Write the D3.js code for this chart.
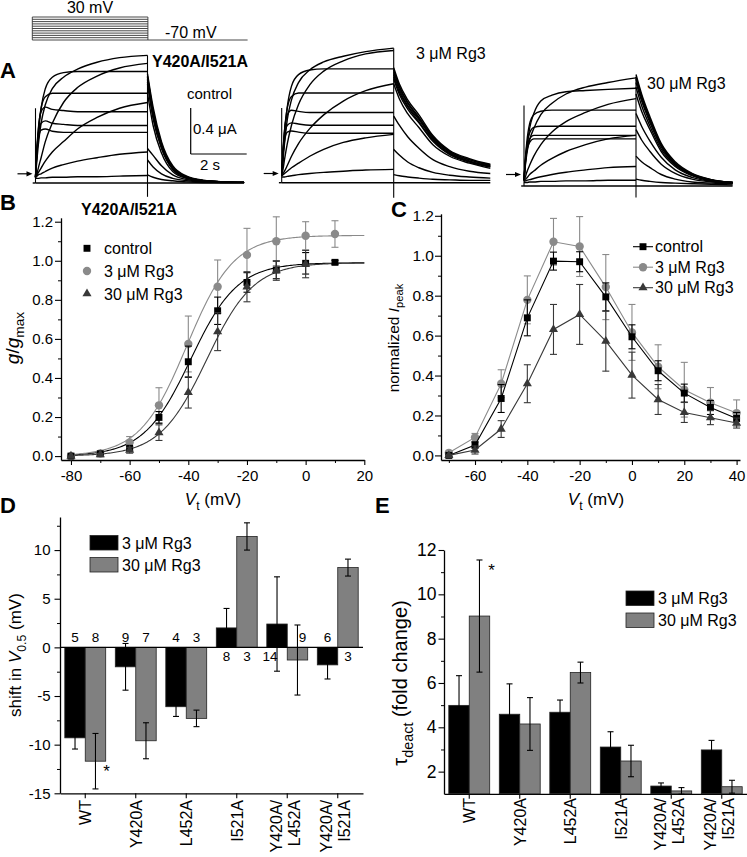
<!DOCTYPE html>
<html><head><meta charset="utf-8">
<script src="https://cdn.jsdelivr.net/npm/d3@7"></script>
<style>body{margin:0;background:#fff}svg{display:block}text{font-family:"Liberation Sans",Arial,Helvetica,sans-serif;fill:#000}</style>
</head><body><svg id="fig" width="747" height="857"></svg>
<script>
// ================= DATA =================
// Panel A : voltage protocol and current traces (µA)
const protocolSteps = [-70,-60,-50,-40,-30,-20,-10,0,10,20,30];
const holdingV = -70;
const actTimes = [0,0.05,0.1,0.2,0.35,0.6,1,1.5,2.2,3,4];      // s, during 4-s pulse
const tailTimes = [0,0.2,0.5,0.9,1.4,2,2.7,3.45];                // s, after pulse end

const controlAct = [
 [0.05,0.20,0.33,0.52,0.68,0.82,0.92,0.99,1.05,1.09,1.11],
 [0.05,0.08,0.13,0.22,0.36,0.52,0.70,0.83,0.93,1.00,1.04],
 [0.05,0.25,0.42,0.65,0.82,0.92,0.96,0.97,0.97,0.97,0.97],
 [0.05,0.28,0.45,0.65,0.75,0.78,0.78,0.78,0.78,0.78,0.78],
 [0.05,0.07,0.09,0.13,0.19,0.27,0.36,0.47,0.57,0.65,0.70],
 [0.05,0.30,0.47,0.62,0.66,0.64,0.63,0.62,0.62,0.62,0.62],
 [0.05,0.28,0.42,0.52,0.54,0.52,0.51,0.50,0.50,0.50,0.50],
 [0.05,0.26,0.38,0.46,0.47,0.45,0.44,0.44,0.44,0.44,0.44],
 [0.05,0.06,0.07,0.08,0.10,0.13,0.16,0.19,0.22,0.25,0.27],
 [0.04,0.04,0.04,0.045,0.045,0.05,0.05,0.055,0.055,0.06,0.065],
 [0,0,0,0,0,0,0,0,0,0,0]
];
const controlTail = [
 [0.95,0.66,0.36,0.15,0.06,0.025,0.01,0.005],
 [0.78,0.50,0.26,0.10,0.04,0.02,0.01,0.005],
 [0.93,0.63,0.34,0.14,0.055,0.02,0.01,0.005],
 [0.92,0.62,0.33,0.135,0.05,0.02,0.01,0.005],
 [0.30,0.24,0.15,0.07,0.03,0.015,0.01,0.005],
 [0.90,0.60,0.32,0.13,0.05,0.02,0.01,0.005],
 [0.88,0.58,0.31,0.12,0.045,0.02,0.01,0.005],
 [0.86,0.56,0.30,0.12,0.045,0.02,0.01,0.005],
 [0.20,0.14,0.08,0.04,0.02,0.01,0.005,0.005],
 [0.07,0.05,0.03,0.02,0.01,0.005,0.005,0.005],
 [0,0,0,0,0,0,0,0]
];
const rg3Act = [
 [0.06,0.20,0.34,0.55,0.72,0.87,0.98,1.05,1.10,1.14,1.17],
 [0.06,0.12,0.20,0.34,0.50,0.68,0.85,0.97,1.06,1.12,1.15],
 [0.06,0.26,0.43,0.66,0.84,0.94,0.98,0.99,0.99,0.99,0.99],
 [0.06,0.08,0.10,0.15,0.23,0.34,0.47,0.59,0.71,0.80,0.86],
 [0.06,0.28,0.45,0.65,0.75,0.78,0.78,0.78,0.78,0.78,0.78],
 [0.06,0.29,0.45,0.59,0.63,0.62,0.61,0.61,0.61,0.61,0.61],
 [0.06,0.27,0.40,0.50,0.52,0.51,0.50,0.50,0.50,0.50,0.50],
 [0.06,0.25,0.36,0.44,0.45,0.44,0.43,0.43,0.43,0.43,0.43],
 [0.06,0.07,0.08,0.10,0.13,0.17,0.23,0.29,0.35,0.39,0.42],
 [0.05,0.05,0.05,0.055,0.06,0.07,0.08,0.09,0.10,0.11,0.116],
 [0,0,0,0,0,0,0,0,0,0,0]
];
const rg3Tail = [
 [1.00,0.86,0.72,0.59,0.41,0.28,0.21,0.16],
 [0.98,0.84,0.70,0.57,0.40,0.27,0.20,0.155],
 [0.96,0.83,0.69,0.56,0.39,0.27,0.20,0.15],
 [0.58,0.50,0.40,0.30,0.20,0.14,0.10,0.08],
 [0.94,0.81,0.67,0.55,0.38,0.26,0.19,0.145],
 [0.92,0.79,0.66,0.53,0.37,0.25,0.185,0.14],
 [0.90,0.77,0.64,0.52,0.36,0.245,0.18,0.135],
 [0.86,0.73,0.60,0.48,0.33,0.23,0.17,0.125],
 [0.29,0.24,0.18,0.13,0.09,0.065,0.05,0.04],
 [0.07,0.06,0.05,0.04,0.03,0.025,0.02,0.02],
 [0,0,0,0,0,0,0,0]
];
const rg30Act = [
 [0.05,0.18,0.28,0.40,0.50,0.62,0.72,0.80,0.86,0.90,0.94],
 [0.05,0.20,0.32,0.50,0.63,0.74,0.79,0.82,0.83,0.84,0.85],
 [0.05,0.08,0.12,0.18,0.26,0.36,0.47,0.56,0.64,0.71,0.76],
 [0.05,0.24,0.38,0.54,0.62,0.65,0.66,0.66,0.66,0.66,0.66],
 [0.05,0.23,0.35,0.46,0.51,0.52,0.52,0.52,0.52,0.52,0.52],
 [0.05,0.22,0.32,0.41,0.44,0.44,0.44,0.44,0.44,0.44,0.44],
 [0.05,0.21,0.30,0.38,0.41,0.41,0.41,0.41,0.41,0.41,0.41],
 [0.05,0.06,0.07,0.10,0.13,0.18,0.24,0.30,0.36,0.41,0.44],
 [0.04,0.045,0.05,0.055,0.065,0.08,0.10,0.12,0.14,0.16,0.17],
 [0.03,0.03,0.03,0.035,0.035,0.04,0.04,0.045,0.045,0.05,0.05],
 [0,0,0,0,0,0,0,0,0,0,0]
];
const rg30Tail = [
 [0.97,0.80,0.60,0.37,0.21,0.11,0.055,0.03],
 [0.95,0.78,0.58,0.36,0.20,0.105,0.053,0.03],
 [0.93,0.76,0.57,0.35,0.195,0.10,0.05,0.03],
 [0.90,0.74,0.55,0.34,0.19,0.10,0.05,0.03],
 [0.86,0.70,0.52,0.32,0.18,0.095,0.05,0.03],
 [0.80,0.65,0.49,0.30,0.17,0.09,0.045,0.03],
 [0.63,0.52,0.39,0.25,0.14,0.075,0.04,0.025],
 [0.49,0.40,0.30,0.19,0.11,0.06,0.035,0.025],
 [0.26,0.21,0.16,0.10,0.06,0.035,0.025,0.02],
 [0.06,0.05,0.04,0.03,0.025,0.02,0.015,0.01],
 [0,0,0,0,0,0,0,0]
];
const startArtifact = [0.65, 0.65, 0.70];          // µA
const endArtifact = [[1.11,-0.12],[1.17,-0.13],[0.95,-0.10]];
const zeroArrow = [0.08, 0.08, 0.10];
const scaleBarI = 0.4, scaleBarT = 2;

// Panel B : g/gmax
const bVolt = [-80,-70,-60,-50,-40,-30,-20,-10,0,10];
const bControl    = [0.0,0.012,0.04,0.198,0.483,0.744,0.889,0.953,0.987,0.992];
const bControlErr = [0,0.005,0.01,0.03,0.08,0.07,0.05,0.045,0.055,0.01];
const bRg3        = [0.0,0.014,0.07,0.26,0.574,0.867,1.03,1.10,1.128,1.137];
const bRg3Err     = [0,0.005,0.03,0.09,0.143,0.137,0.136,0.125,0.072,0.068];
const bRg30Volt   = [-80,-70,-60,-50,-40,-30,-20,-10,0];
const bRg30       = [0.0,0.008,0.03,0.12,0.326,0.637,0.867,0.95,0.983];
const bRg30Err    = [0,0.005,0.015,0.04,0.08,0.097,0.077,0.05,0.07];
const fitVhalf = [-39.2,-40.5,-33.7];
const fitSlope = [8,8,8];
const fitGmax  = [0.99,1.13,0.99];
const bXTicks = [-80,-60,-40,-20,0,20];
const bYTicks = [0,0.2,0.4,0.6,0.8,1.0,1.2];

// Panel C : normalized Ipeak
const cVolt = [-70,-60,-50,-40,-30,-20,-10,0,10,20,30,40];
const cControl    = [0.0,0.052,0.285,0.689,0.973,0.97,0.794,0.594,0.424,0.312,0.24,0.185];
const cControlErr = [0.005,0.015,0.07,0.09,0.045,0.05,0.07,0.06,0.05,0.045,0.035,0.03];
const cRg3        = [0.013,0.09,0.359,0.779,1.07,1.046,0.843,0.616,0.444,0.329,0.264,0.212];
const cRg3Err     = [0.005,0.02,0.07,0.12,0.117,0.15,0.163,0.14,0.11,0.137,0.076,0.066];
const cRg30       = [0.0,0.027,0.132,0.359,0.631,0.706,0.572,0.402,0.28,0.215,0.189,0.162];
const cRg30Err    = [0.005,0.02,0.042,0.095,0.125,0.15,0.15,0.115,0.075,0.05,0.035,0.025];
const cXTicks = [-60,-40,-20,0,20,40];

// Panels D & E
const mutants = ["WT","Y420A","L452A","I521A","Y420A/L452A","Y420A/I521A"];
const shift3     = [-9.3,-2.0,-6.1,2.0,2.4,-1.8];
const shift3Err  = [1.15,2.4,1.0,2.0,4.85,1.45];
const shift30    = [-11.7,-9.6,-7.3,11.4,-1.3,8.2];
const shift30Err = [2.85,1.85,0.85,1.4,3.6,0.87];
const n3  = [5,9,4,8,14,6];
const n30 = [8,7,3,3,9,3];
const dYTicks = [-15,-10,-5,0,5,10];
const tau3     = [4.99,4.59,4.68,3.11,1.35,2.98];
const tau3Err  = [1.34,1.37,0.55,0.69,0.14,0.43];
const tau30    = [9.02,4.15,6.47,2.48,1.13,1.32];
const tau30Err = [2.53,1.19,0.47,0.71,0.15,0.29];
const eYTicks = [2,4,6,8,10,12];
const legendLabels = ["3 μM Rg3","30 μM Rg3"];
const bcLegend = ["control","3 μM Rg3","30 μM Rg3"];

// ================= DRAWING =================
const svg = d3.select("#fig");
const GRAY = "#8a8a8a", DARK = "#383838", BARGRAY = "#808080";

function rich(g, x, y, parts, size, rotate, anchor) {
  const t = g.append("text").attr("x", x).attr("y", y).attr("font-size", size)
    .attr("text-anchor", anchor || "middle");
  if (rotate) t.attr("transform", `rotate(-90,${x},${y})`);
  parts.forEach(p => {
    const s = t.append("tspan").text(p.t);
    if (p.i) s.attr("font-style", "italic");
    if (p.sub) s.attr("font-size", size * 0.72).attr("dy", size * 0.28);
    if (p.up) s.attr("dy", -size * 0.28);
  });
  return t;
}
function plain(g, x, y, s, size, anchor, weight) {
  return g.append("text").attr("x", x).attr("y", y).attr("font-size", size)
    .attr("text-anchor", anchor || "start").attr("font-weight", weight || "normal").text(s);
}
function styleAxis(ax, fs) {
  ax.attr("font-family", '"Liberation Sans",Arial,sans-serif').attr("font-size", fs);
  ax.selectAll("text").attr("fill", "#000");
  ax.selectAll("line").attr("stroke", "#000").attr("stroke-width", 1.1);
  ax.select(".domain").attr("stroke", "#000").attr("stroke-width", 1.3);
}
function minorAxis(g, axisFn, scale, vals, size, transform) {
  const m = g.append("g").attr("transform", transform)
    .call(axisFn(scale).tickValues(vals).tickSize(size).tickFormat(""));
  m.select(".domain").remove();
  m.selectAll("line").attr("stroke", "#000").attr("stroke-width", 1);
}
const fmtNum = d => String(d);
const fmt1 = d => d.toFixed(1);

// ---------- Panel A ----------
const gA = svg.append("g");
plain(gA, 0, 78, "A", 22, "start", "bold");
const protoT = d3.scaleLinear().domain([0, 7.45]).range([32.3, 32.3 + 7.45 * 28.9]);
const protoV = d3.scaleLinear().domain([-70, 30]).range([40, 17]);
const pg = gA.append("g").attr("stroke", "#333").attr("stroke-width", 0.9).attr("fill", "none");
protocolSteps.forEach(v => pg.append("line").attr("x1", protoT(0)).attr("x2", protoT(4))
  .attr("y1", protoV(v)).attr("y2", protoV(v)));
pg.append("line").attr("x1", protoT(0)).attr("x2", protoT(0)).attr("y1", protoV(30)).attr("y2", protoV(holdingV));
pg.append("line").attr("x1", protoT(4)).attr("x2", protoT(4)).attr("y1", protoV(30)).attr("y2", protoV(holdingV));
pg.append("line").attr("x1", protoT(4)).attr("x2", protoT(7.45)).attr("y1", protoV(holdingV)).attr("y2", protoV(holdingV));
plain(gA, 90, 13, "30 mV", 16, "middle");
plain(gA, 165, 37.5, "-70 mV", 16, "start");

const panelsA = [
  {act: controlAct, tail: controlTail, x0: 35.5, base: 183},
  {act: rg3Act, tail: rg3Tail, x0: 281.7, base: 182.7},
  {act: rg30Act, tail: rg30Tail, x0: 524, base: 186}
];
panelsA.forEach((p, k) => {
  const tx = d3.scaleLinear().domain([0, 7.45]).range([p.x0, p.x0 + 7.45 * 28]);
  const iy = d3.scaleLinear().domain([0, 1]).range([p.base, p.base - 115]);
  const line = d3.line().x(d => tx(d[0])).y(d => iy(d[1])).curve(d3.curveMonotoneX);
  const g = gA.append("g").attr("fill", "none").attr("stroke", "#000").attr("stroke-width", 1.4);
  p.act.forEach(tr => g.append("path").attr("d", line(actTimes.map((t, i) => [t, tr[i]]))));
  p.tail.forEach(tr => g.append("path").attr("d", line(tailTimes.map((t, i) => [4 + t, tr[i]]))));
  g.append("line").attr("x1", tx(-0.1)).attr("x2", tx(0)).attr("y1", iy(0)).attr("y2", iy(0));
  g.append("line").attr("x1", tx(0)).attr("x2", tx(0)).attr("y1", iy(0)).attr("y2", iy(startArtifact[k])).attr("stroke-width", 1.1);
  g.append("line").attr("x1", tx(4)).attr("x2", tx(4)).attr("y1", iy(endArtifact[k][0])).attr("y2", iy(endArtifact[k][1])).attr("stroke-width", 1.1);
  const ay = iy(zeroArrow[k]);
  gA.append("line").attr("x1", tx(0) - 18).attr("x2", tx(0) - 7).attr("y1", ay).attr("y2", ay)
    .attr("stroke", "#000").attr("stroke-width", 1.2);
  gA.append("path").attr("d", `M${tx(0) - 3},${ay} L${tx(0) - 9},${ay - 2.6} L${tx(0) - 9},${ay + 2.6} Z`).attr("fill", "#000");
  if (k === 0) {
    const sx = 190.7, sy = 154;
    const sb = gA.append("g").attr("stroke", "#000").attr("stroke-width", 1.2).attr("fill", "none");
    sb.append("line").attr("x1", sx).attr("x2", sx).attr("y1", sy).attr("y2", sy - (iy(0) - iy(scaleBarI)));
    sb.append("line").attr("x1", sx).attr("x2", sx + (tx(scaleBarT) - tx(0))).attr("y1", sy).attr("y2", sy);
    plain(gA, 193, 133.5, "0.4 μA", 15, "start");
    plain(gA, 200, 170, "2 s", 15, "start");
  }
});
plain(gA, 152, 67, "Y420A/I521A", 16, "start", "bold");
plain(gA, 187, 99, "control", 15, "start");
plain(gA, 416, 59, "3 μM Rg3", 16, "start");
plain(gA, 647, 89, "30 μM Rg3", 16, "start");

const sym = {
  square: d3.symbol(d3.symbolSquare, 48),
  circle: d3.symbol(d3.symbolCircle, 55),
  triangle: d3.symbol(d3.symbolTriangle, 36)
};
function drawSeries(g, xs, ys, errs, x, y, shape, color, opts) {
  const eg = g.append("g").attr("stroke", color).attr("stroke-width", 1.1);
  xs.forEach((v, i) => {
    if (!errs[i]) return;
    const cx = x(v), y1 = y(ys[i] - errs[i]), y2 = y(ys[i] + errs[i]);
    eg.append("line").attr("x1", cx).attr("x2", cx).attr("y1", y1).attr("y2", y2);
    eg.append("line").attr("x1", cx - 3.5).attr("x2", cx + 3.5).attr("y1", y1).attr("y2", y1);
    eg.append("line").attr("x1", cx - 3.5).attr("x2", cx + 3.5).attr("y1", y2).attr("y2", y2);
  });
  if (opts && opts.connect) {
    g.append("path").attr("fill", "none").attr("stroke", color).attr("stroke-width", 1.1)
      .attr("d", d3.line().x((d, i) => x(xs[i])).y(d => y(d))(ys));
  }
  xs.forEach((v, i) => g.append("path").attr("d", sym[shape]())
    .attr("transform", `translate(${x(v)},${y(ys[i])})`).attr("fill", color));
}

// ---------- Panel B ----------
const gB = svg.append("g");
plain(gB, 0, 210, "B", 22, "start", "bold");
const bx = d3.scaleLinear().domain([-83.4, 20]).range([61, 364.3]);
const by = d3.scaleLinear().domain([-0.02, 1.22]).range([460, 217.8]);
let ax = gB.append("g").attr("transform", "translate(0,460)")
  .call(d3.axisBottom(bx).tickValues(bXTicks).tickSize(5).tickSizeOuter(0).tickPadding(5).tickFormat(fmtNum));
styleAxis(ax, 15);
minorAxis(gB, d3.axisBottom, bx, [-70,-50,-30,-10,10], 3, "translate(0,460)");
ax = gB.append("g").attr("transform", "translate(61,0)")
  .call(d3.axisLeft(by).tickValues(bYTicks).tickSize(6).tickSizeOuter(0).tickPadding(2).tickFormat(fmt1));
styleAxis(ax, 15);
minorAxis(gB, d3.axisLeft, by, [0.1,0.3,0.5,0.7,0.9,1.1], 3, "translate(61,0)");
const fitV = d3.range(-80, 20.01, 0.5);
const fitColors = ["#000", GRAY, DARK];
fitVhalf.forEach((vh, k) => {
  gB.append("path").attr("fill", "none").attr("stroke", fitColors[k]).attr("stroke-width", 1.1)
    .attr("d", d3.line().x(v => bx(v)).y(v => by(fitGmax[k] / (1 + Math.exp((vh - v) / fitSlope[k]))))(fitV));
});
drawSeries(gB, bVolt, bRg3, bRg3Err, bx, by, "circle", GRAY);
drawSeries(gB, bVolt, bControl, bControlErr, bx, by, "square", "#000");
drawSeries(gB, bRg30Volt, bRg30, bRg30Err, bx, by, "triangle", DARK);
plain(gB, 81, 215, "Y420A/I521A", 16, "start", "bold");
[["square", "#000"], ["circle", GRAY], ["triangle", DARK]].forEach((s, i) => {
  const yy = 248.3 + i * 22.7;
  gB.append("path").attr("d", sym[s[0]]()).attr("transform", `translate(87,${yy})`).attr("fill", s[1]);
  plain(gB, 104, yy + 6, bcLegend[i], 16, "start");
});
rich(gB, 19, 338, [{t: "g", i: 1}, {t: "/"}, {t: "g", i: 1}, {t: "max", sub: 1}], 19, true);
rich(gB, 213, 505, [{t: "V", i: 1}, {t: "t", sub: 1}, {t: " (mV)", up: 1}], 17, false);

// ---------- Panel C ----------
const gC = svg.append("g");
plain(gC, 391, 216.7, "C", 22, "start", "bold");
const cx = d3.scaleLinear().domain([-73, 41.3]).range([441, 740]);
const cy = d3.scaleLinear().domain([-0.023, 1.21]).range([460, 213.8]);
ax = gC.append("g").attr("transform", "translate(0,460)")
  .call(d3.axisBottom(cx).tickValues(cXTicks).tickSize(5).tickSizeOuter(0).tickPadding(5).tickFormat(fmtNum));
styleAxis(ax, 15);
minorAxis(gC, d3.axisBottom, cx, [-70,-50,-30,-10,10,30], 3, "translate(0,460)");
ax = gC.append("g").attr("transform", "translate(441,0)")
  .call(d3.axisLeft(cy).tickValues(bYTicks).tickSize(6).tickSizeOuter(0).tickPadding(1).tickFormat(fmt1));
styleAxis(ax, 15.5);
minorAxis(gC, d3.axisLeft, cy, [0.1,0.3,0.5,0.7,0.9,1.1], 3, "translate(441,0)");
drawSeries(gC, cVolt, cRg3, cRg3Err, cx, cy, "circle", GRAY, {connect: true});
drawSeries(gC, cVolt, cControl, cControlErr, cx, cy, "square", "#000", {connect: true});
drawSeries(gC, cVolt, cRg30, cRg30Err, cx, cy, "triangle", DARK, {connect: true});
[["square", "#000"], ["circle", GRAY], ["triangle", DARK]].forEach((s, i) => {
  const yy = 246.7 + i * 20.5;
  gC.append("line").attr("x1", 633).attr("x2", 653).attr("y1", yy).attr("y2", yy).attr("stroke", s[1]).attr("stroke-width", 1.1);
  gC.append("path").attr("d", sym[s[0]]()).attr("transform", `translate(643,${yy})`).attr("fill", s[1]);
  plain(gC, 655, yy + 5.5, bcLegend[i], 16, "start");
});
rich(gC, 399, 338, [{t: "normalized "}, {t: "I", i: 1}, {t: "peak", sub: 1}], 15.5, true);
rich(gC, 596, 505, [{t: "V", i: 1}, {t: "t", sub: 1}, {t: " (mV)", up: 1}], 17, false);

// ---------- bar chart helper ----------
function barPanel(g, cfg) {
  const xb = d3.scaleBand().domain(mutants).range(cfg.xr).padding(0);
  const bw = xb.bandwidth() * 0.405;
  const y = cfg.y;
  let a = g.append("g").attr("transform", `translate(0,${cfg.y.range()[0]})`)
    .call(d3.axisBottom(xb).tickSize(5).tickSizeOuter(0).tickFormat(""));
  styleAxis(a, 16);
  a = g.append("g").attr("transform", `translate(${cfg.xr[0]},0)`)
    .call(d3.axisLeft(y).tickValues(cfg.ticks).tickSize(5.5).tickSizeOuter(0).tickPadding(cfg.pad).tickFormat(fmtNum));
  styleAxis(a, cfg.tickFs);
  minorAxis(g, d3.axisLeft, y, cfg.minor, 3, `translate(${cfg.xr[0]},0)`);
  const y0 = y(cfg.base);
  [[cfg.v3, cfg.e3, "#000", -1], [cfg.v30, cfg.e30, BARGRAY, 0]].forEach(([vals, errs, col, off]) => {
    mutants.forEach((m, i) => {
      const c = xb(m) + xb.bandwidth() / 2;
      const x0 = c + off * bw;
      const yv = y(vals[i]);
      g.append("rect").attr("x", x0).attr("width", bw)
        .attr("y", Math.min(yv, y0)).attr("height", Math.abs(y0 - yv))
        .attr("fill", col).attr("stroke", "#222").attr("stroke-width", 0.8);
      const bc = x0 + bw / 2, t1 = y(vals[i] + errs[i]), t2 = y(vals[i] - errs[i]);
      const eg = g.append("g").attr("stroke", "#000").attr("stroke-width", 1.1);
      eg.append("line").attr("x1", bc).attr("x2", bc).attr("y1", t1).attr("y2", t2);
      eg.append("line").attr("x1", bc - 3).attr("x2", bc + 3).attr("y1", t1).attr("y2", t1);
      eg.append("line").attr("x1", bc - 3).attr("x2", bc + 3).attr("y1", t2).attr("y2", t2);
    });
  });
  mutants.forEach(m => {
    const c = xb(m) + xb.bandwidth() / 2;
    const lines = m.includes("/") ? [m.split("/")[0] + "/", m.split("/")[1]] : [m];
    const offs = lines.length === 1 ? [0.5] : [-11, 7];
    lines.forEach((ln, j) => {
      const xx = c + offs[j] + 5.5;
      g.append("text").attr("x", xx).attr("y", cfg.labY).attr("font-size", 16).attr("text-anchor", "end")
        .attr("transform", `rotate(-90,${xx},${cfg.labY})`).text(ln);
    });
  });
  [["#000", 0], [BARGRAY, 1]].forEach(([col, i]) => {
    g.append("rect").attr("x", cfg.leg[0]).attr("y", cfg.leg[1] + i * 22).attr("width", 28).attr("height", 14.5)
      .attr("fill", col).attr("stroke", "#222").attr("stroke-width", 0.8);
    plain(g, cfg.leg[0] + 32, cfg.leg[1] + i * 22 + 13, legendLabels[i], 16, "start");
  });
  return {xb, bw};
}

// ---------- Panel D ----------
const gD = svg.append("g");
plain(gD, 0, 513, "D", 22, "start", "bold");
const dy = d3.scaleLinear().domain([-15, 13.4]).range([793.3, 517]);
const dRes = barPanel(gD, {xr: [60, 363], y: dy, base: 0, ticks: dYTicks, minor: [-12.5,-7.5,-2.5,2.5,7.5,12.5],
  v3: shift3, e3: shift3Err, v30: shift30, e30: shift30Err, labY: 800, leg: [90, 535.5], tickFs: 15, pad: 4});
gD.append("line").attr("x1", 60).attr("x2", 363).attr("y1", dy(0)).attr("y2", dy(0)).attr("stroke", "#000").attr("stroke-width", 1.2);
[[shift3, shift3Err, n3, -1], [shift30, shift30Err, n30, 0]].forEach(([vals, errs, ns, off]) => {
  mutants.forEach((m, i) => {
    const c = dRes.xb(m) + dRes.xb.bandwidth() / 2 + off * dRes.bw + dRes.bw / 2;
    const above = vals[i] < 0;
    const crosses = above ? (vals[i] + errs[i] > 1.5) : (vals[i] - errs[i] < -1.5);
    const shift = crosses ? (off < 0 ? -7 : 5) : 0;
    plain(gD, c + shift, above ? dy(0) - 5 : dy(0) + 13.5, String(ns[i]), 13.5, "middle");
  });
});
plain(gD, dRes.xb("WT") + dRes.xb.bandwidth() / 2 + dRes.bw / 2 + 11, 777, "*", 17, "middle");
rich(gD, 21, 655, [{t: "shift in "}, {t: "V", i: 1}, {t: "0.5", sub: 1}, {t: " (mV)", up: 1}], 17, true);

// ---------- Panel E ----------
const gE = svg.append("g");
plain(gE, 375, 513, "E", 22, "start", "bold");
const ey = d3.scaleLinear().domain([1, 12]).range([793.8, 550]);
const eRes = barPanel(gE, {xr: [444, 747], y: ey, base: 1, ticks: eYTicks, minor: [3,5,7,9,11],
  v3: tau3, e3: tau3Err, v30: tau30, e30: tau30Err, labY: 798, leg: [626, 591], tickFs: 17.5, pad: 2});
plain(gE, eRes.xb("WT") + eRes.xb.bandwidth() / 2 + eRes.bw / 2 + 12, 576, "*", 17, "middle");
rich(gE, 407, 683, [{t: "τ"}, {t: "deact", sub: 1}, {t: "  (fold change)", up: 1}], 20, true);
</script></body></html>
